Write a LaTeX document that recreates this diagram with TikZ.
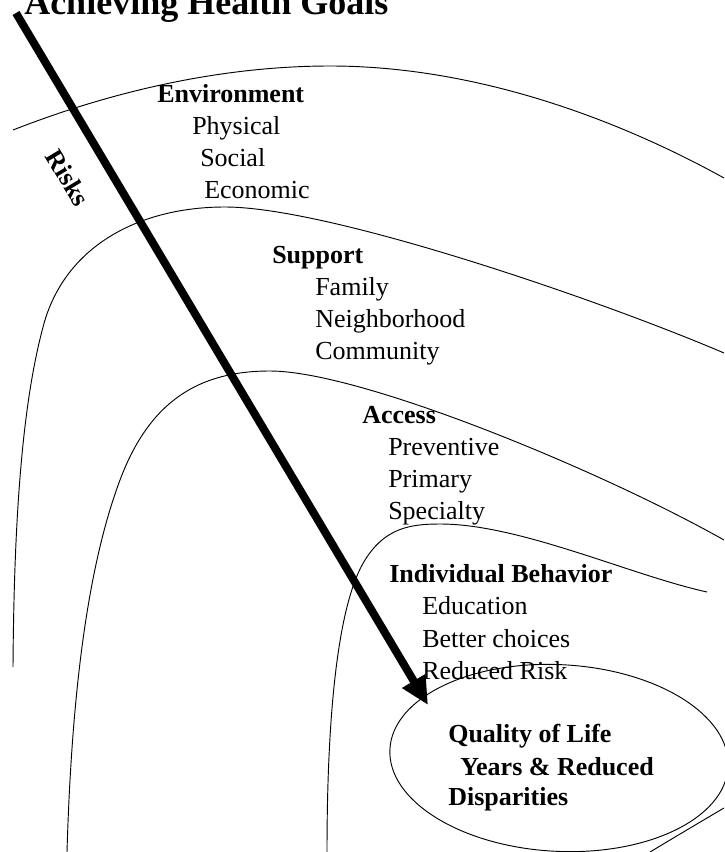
\documentclass[tikz,border=0pt]{standalone}
\usepackage{fontspec}
\setmainfont{Liberation Serif}
\usetikzlibrary{arrows.meta,shapes.geometric}
\tikzstyle{band} = [line width=0.7pt]
\tikzstyle{txt} = [
  anchor=base west,
  inner sep=0pt,
  font=\fontsize{19.5}{24}\selectfont,
]
\tikzstyle{hd} = [txt, font=\fontsize{19.5}{24}\selectfont\bfseries]
\tikzstyle{risk} = [line width=6pt, -{Triangle[length=21pt,width=19pt]}]

\begin{document}
\begin{tikzpicture}[
    x=0.75pt,
    y=-0.75pt
  ]
    \useasboundingbox (0,0) rectangle (724,852);

    % Title
    \node[hd, font=\fontsize{27}{30}\selectfont\bfseries] (title) at (24,15) {Achieving Health Goals};

    % Bands
    \draw[band] (13,130) .. controls (110,92) and (220,66) .. (330,66)
                         .. controls (470,66) and (610,115) .. (724,178);
    \draw[band] (13,667) .. controls (14,520) and (22,400) .. (45,320)
                         .. controls (68,245) and (140,207) .. (225,207)
                         .. controls (330,207) and (600,300) .. (724,353);
    \draw[band] (67,852) .. controls (72,680) and (90,560) .. (120,480)
                         .. controls (150,400) and (200,371) .. (270,371)
                         .. controls (360,371) and (600,470) .. (724,540);
    \draw[band] (327,852) .. controls (327,700) and (340,600) .. (365,560)
                          .. controls (385,528) and (410,524) .. (440,524)
                          .. controls (520,524) and (630,575) .. (707,592);
    \draw[band] (724,808) .. controls (695,825) and (670,840) .. (650,852);

    % Goal
    \node[band, draw, ellipse, minimum width=254pt, minimum height=140pt, rotate=-3] (goal) at (559,758) {};

    % Risks
    \coordinate (start) at (16,13);
    \coordinate (tip) at (428,705);
    \draw[risk] (start) -- (tip);
    \node[hd, anchor=center, rotate=-59] (risks) at (68,178) {Risks};

    % Labels
    \node[hd] (env) at (157,103) {Environment};
    \node[txt] (phys) at (192,135) {Physical};
    \node[txt] (soc) at (200,167) {Social};
    \node[txt] (econ) at (204,199) {Economic};

    \node[hd] (supp) at (272,263) {Support};
    \node[txt] (fam) at (315,295) {Family};
    \node[txt] (nbhd) at (315,327) {Neighborhood};
    \node[txt] (comm) at (315,359) {Community};

    \node[hd] (acc) at (362,423) {Access};
    \node[txt] (prev) at (388,455) {Preventive};
    \node[txt] (prim) at (388,487) {Primary};
    \node[txt] (spec) at (388,519) {Specialty};

    \node[hd] (indiv) at (389,582) {Individual Behavior};
    \node[txt] (edu) at (422,614) {Education};
    \node[txt] (better) at (422,647) {Better choices};
    \node[txt] (reduced) at (422,679) {Reduced Risk};

    \node[hd] (qol) at (448,742) {Quality of Life};
    \node[hd] (years) at (460,775) {Years \& Reduced};
    \node[hd] (disp) at (448,805) {Disparities};
  \end{tikzpicture}
\end{document}
